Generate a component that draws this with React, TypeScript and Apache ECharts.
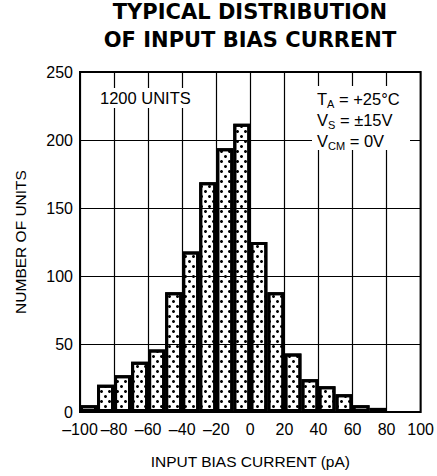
import React, { useEffect, useRef } from "react";
import * as echarts from "echarts";

// Histogram bins (start of each 10 pA bin) and counts
const binStarts = [-100, -90, -80, -70, -60, -50, -40, -30, -20, -10, 0, 10, 20, 30, 40, 50, 60, 70, 80, 90];
const counts: (number | null)[] = [5, 20, 27, 37, 46, 88, 118, 169, 194, 212, 125, 88, 43, 24, 19, 13, 5, 3, null, null];

const xMin = -100;
const xMax = 100;
const xStep = 20;
const yMin = 0;
const yMax = 250;
const yStep = 50;

const titleLines = ["TYPICAL DISTRIBUTION", "OF INPUT BIAS CURRENT"];
const unitsNote = "1200 UNITS";
const conditions = [
  ["T", "A", " = +25°C"],
  ["V", "S", " = ±15V"],
  ["V", "CM", " = 0V"],
];

const FONT = '"Liberation Sans", Arial, Helvetica, sans-serif';

export default function App() {
  const ref = useRef<HTMLDivElement>(null);
  useEffect(() => {
    const chart = echarts.init(ref.current!, null, { renderer: "svg" });
    const condText = conditions.map((c) => `{m|${c[0]}}{s|${c[1]}}{m|${c[2]}}`).join("\n");
    chart.setOption({
      animation: false,
      backgroundColor: "#fff",
      textStyle: { fontFamily: FONT, color: "#000" },
      grid: {
        left: 80,
        right: 14,
        top: 72,
        bottom: 64,
        show: true,
        borderColor: "#000",
        borderWidth: 2,
        backgroundColor: "#fff",
      },
      xAxis: [
        {
          type: "category",
          data: binStarts.map(String),
          show: false,
          boundaryGap: true,
        },
        {
          type: "value",
          min: xMin,
          max: xMax,
          interval: xStep,
          position: "bottom",
          axisLine: { show: false },
          axisTick: { show: false },
          splitLine: { show: true, lineStyle: { color: "#000", width: 1.2 } },
          axisLabel: {
            color: "#000",
            fontSize: 16,
            fontFamily: FONT,
            margin: 9,
            formatter: (v: number) => String(v).replace("-", "–"),
          },
          name: "INPUT BIAS CURRENT (pA)",
          nameLocation: "middle",
          nameGap: 41,
          nameTextStyle: { color: "#000", fontSize: 15.5, fontFamily: FONT },
        },
      ],
      yAxis: {
        type: "value",
        min: yMin,
        max: yMax,
        interval: yStep,
        axisLine: { show: false },
        axisTick: { show: false },
        splitLine: { show: true, lineStyle: { color: "#000", width: 1.2 } },
        axisLabel: { color: "#000", fontSize: 16, fontFamily: FONT, margin: 7 },
        name: "NUMBER OF UNITS",
        nameLocation: "middle",
        nameGap: 52,
        nameTextStyle: { color: "#000", fontSize: 15.5, fontFamily: FONT },
      },
      series: [
        {
          type: "bar",
          xAxisIndex: 0,
          data: counts,
          barCategoryGap: "0%",
          z: 3,
          itemStyle: {
            color: "rgba(255,255,255,0)",
            borderColor: "#000",
            borderWidth: 3,
            decal: {
              symbol: "circle",
              symbolSize: 1,
              color: "#000",
              dashArrayX: [
                [3, 5],
                [0, 4, 3, 1],
              ],
              dashArrayY: [3, 2],
              rotation: 0,
            },
          },
        },
      ],
      graphic: [
        {
          type: "text",
          x: 250,
          y: 12,
          z: 100,
          style: {
            text: titleLines[0],
            font: 'bold 21px "DejaVu Sans", sans-serif',
            fill: "#000",
            textAlign: "center",
            textVerticalAlign: "middle",
          },
        },
        {
          type: "text",
          x: 250,
          y: 40,
          z: 100,
          style: {
            text: titleLines[1],
            font: 'bold 21px "DejaVu Sans", sans-serif',
            fill: "#000",
            textAlign: "center",
            textVerticalAlign: "middle",
          },
        },
        {
          type: "rect",
          z: 99,
          shape: { x: 96, y: 88, width: 101, height: 20 },
          style: { fill: "#fff" },
        },
        {
          type: "text",
          x: 100,
          y: 98,
          z: 100,
          style: {
            text: unitsNote,
            font: `16.5px ${FONT}`,
            fill: "#000",
            textAlign: "left",
            textVerticalAlign: "middle",
          },
        },
        {
          type: "rect",
          z: 99,
          shape: { x: 312, y: 86, width: 98, height: 64 },
          style: { fill: "#fff" },
        },
        {
          type: "text",
          x: 317,
          y: 88,
          z: 100,
          style: {
            text: condText,
            fill: "#000",
            textAlign: "left",
            textVerticalAlign: "top",
            rich: {
              m: { fontSize: 16.5, fontFamily: FONT, lineHeight: 21, fill: "#000" },
              s: { fontSize: 11, fontFamily: FONT, lineHeight: 15, verticalAlign: "bottom", fill: "#000" },
            },
          },
        },
      ],
    });
    return () => chart.dispose();
  }, []);
  return (
    <div
      ref={ref}
      style={{ position: "absolute", left: 0, top: 0, width: 437, height: 476 }}
    />
  );
}
